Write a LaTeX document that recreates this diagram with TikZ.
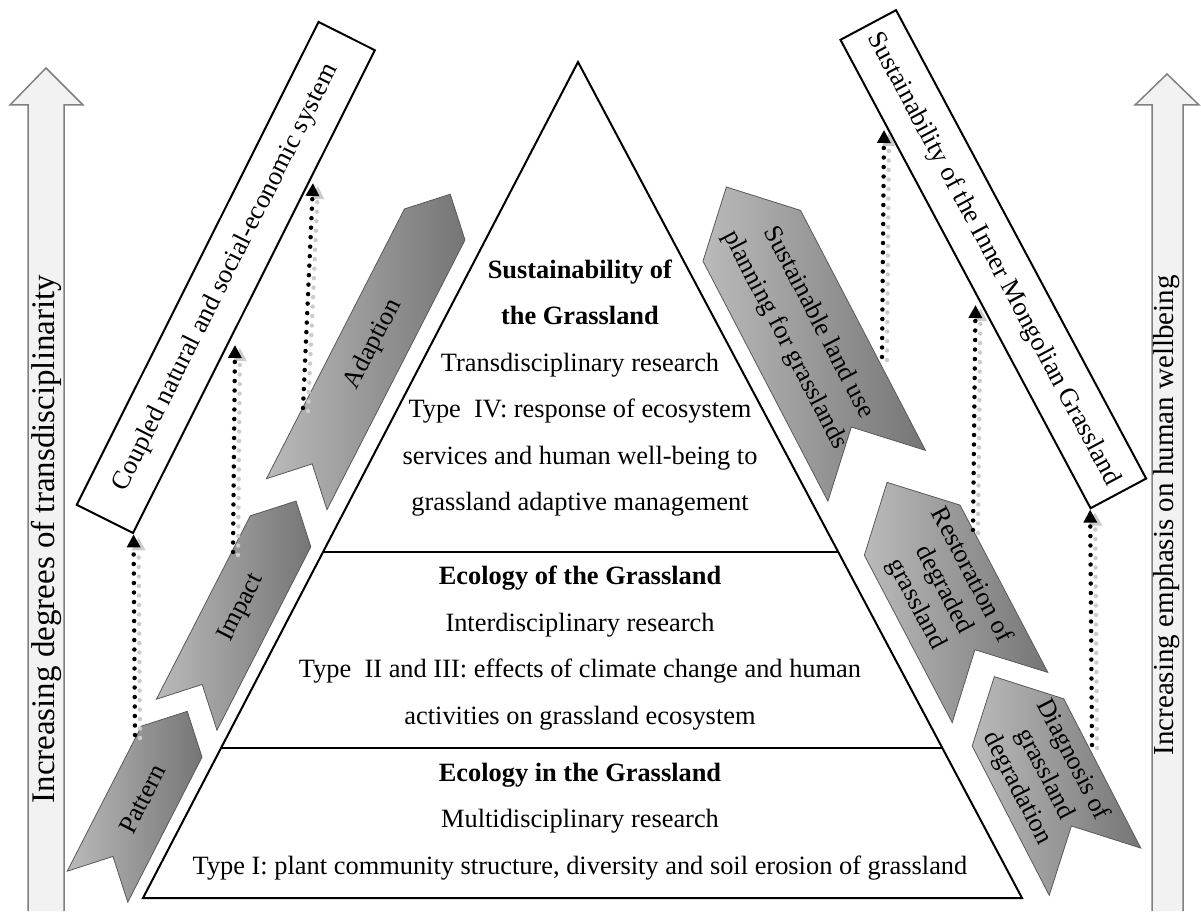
\documentclass[tikz,border=0pt]{standalone}
\usepackage{fontspec}
\setmainfont{Liberation Serif}
\usetikzlibrary{arrows.meta,calc}

% chevron: name, base point, angle, body length, width, text angle, text
\newcommand{\chevron}[7]{%
  \begin{scope}[shift={#2},rotate=#3]
    \path [chevbody] (0,-#5/2) -- (#4,-#5/2) -- (#4+#5/2,0) -- (#4,#5/2) -- (0,#5/2) -- (#5/2,0) -- cycle;
    \node [chevtext,rotate=#6] (#1) at ({(#4+#5/2)/2},0) {#7};
  \end{scope}}

\begin{document}
\begin{tikzpicture}[
                            x=1pt, y=1pt,
                            chevbody/.style={draw=black!65, line width=0.8pt, left color=black!27, right color=black!54},
                            chevtext/.style={align=center, inner sep=0pt, font=\fontsize{26}{31}\selectfont},
                            tritext/.style={align=center, font=\fontsize{26.4}{46.5}\selectfont},
                            sidetext/.style={rotate=90, anchor=west},
                            sidefill/.style={fill=black!5},
                            sideline/.style={draw=black!50, line width=1.5pt},
                            labelbox/.style={rectangle, draw, line width=2pt, minimum height=63pt, font=\fontsize{26.4}{30}\selectfont},
                            dotline/.style={line width=4.5pt, dash pattern=on 0pt off 9.5pt, line cap=round, -{Triangle[length=13pt,width=13pt]}},
                            dotshadow/.style={dotline, black!20, transform canvas={shift={(5pt,-3pt)}}}
                        ]
                        \useasboundingbox (0,0) rectangle (1201,911);

                        % Side arrows
                        \fill [sidefill] (28,0) -- (28,806) -- (10,806) -- (46,843) -- (83,806) -- (64,806) -- (64,0) -- cycle;
                        \draw [sideline] (28,0) -- (28,806) -- (10,806) -- (46,843) -- (83,806) -- (64,806) -- (64,0);
                        \fill [sidefill] (1152,0) -- (1152,806) -- (1135,806) -- (1167,837) -- (1199,806) -- (1183,806) -- (1183,0) -- cycle;
                        \draw [sideline] (1152,0) -- (1152,806) -- (1135,806) -- (1167,837) -- (1199,806) -- (1183,806) -- (1183,0);
                        \node [sidetext, font=\fontsize{33}{36}\selectfont] (transd) at (46,104) {Increasing degrees of transdisciplinarity};
                        \node [sidetext, font=\fontsize{29}{34}\selectfont] (wellbeing) at (1167,152) {Increasing emphasis on human wellbeing};

                        % Triangle
                        \coordinate (apex) at (578,849);
                        \coordinate (bl) at (143,13);
                        \coordinate (br) at (1022,13);
                        \draw [line width=2pt] (apex) -- (bl) -- (br) -- cycle;
                        \draw [line width=2pt] ($(bl)!0.1794!(apex)$) -- ($(br)!0.1794!(apex)$);
                        \draw [line width=2pt] ($(bl)!0.4139!(apex)$) -- ($(br)!0.4139!(apex)$);
                        \node [tritext] (transres) at (580,523) {\textbf{Sustainability of}\\\textbf{the Grassland}\\Transdisciplinary research\\Type\ \ IV: response of ecosystem\\services and human well-being to\\grassland adaptive management};
                        \node [tritext] (interres) at (580,263) {\textbf{Ecology of the Grassland}\\Interdisciplinary research\\Type\ \ II and III: effects of climate change and human\\activities on grassland ecosystem};
                        \node [tritext] (multires) at (580,89.5) {\textbf{Ecology in the Grassland}\\Multidisciplinary research\\Type I: plant community structure, diversity and soil erosion of grassland};

                        % Boxes
                        \node [labelbox, rotate=63.4, minimum width=540pt] (coupled) at (225.8,633.5) {Coupled natural and social-economic system};
                        \node [labelbox, rotate=-61.9, minimum width=531pt] (inner) at (993.3,651.8) {Sustainability of the Inner Mongolian Grassland};

                        % Chevrons
                        \chevron{pattern}{(97.5,24.3)}{62.9}{163}{68}{62.9}{Pattern}
                        \chevron{impact}{(186.7,196.3)}{62.9}{206}{68}{62.9}{Impact}
                        \chevron{adaption}{(296.7,416.8)}{62.9}{303}{68}{62.9}{Adaption}
                        \chevron{landuse}{(876.7,435.2)}{117.5}{270.6}{110}{-62.5}{Sustainable land use\\[7pt]planning for grasslands}
                        \chevron{restore}{(1000,213.5)}{117.7}{189}{108}{-62.3}{Restoration of\\degraded\\grassland}
                        \chevron{diagnose}{(1095,39.3)}{117.3}{168}{103}{-62.7}{Diagnosis of\\grassland\\degradation}

                        % Connections
                        \coordinate (p1) at (135,176);
                        \coordinate (p2) at (233,359);
                        \coordinate (q2) at (235,566);
                        \coordinate (p3) at (303,503);
                        \coordinate (q3) at (313,728);
                        \coordinate (p4) at (882,554);
                        \coordinate (q4) at (884,781);
                        \coordinate (p5) at (973,381);
                        \coordinate (q5) at (975.5,606);
                        \coordinate (p6) at (1092,166);
                        \foreach \a/\b in {p1/coupled.south west, p2/q2, p3/q3, p4/q4, p5/q5, p6/inner.south east}{
                            \draw [dotshadow] (\a) -- (\b);
                            \draw [dotline] (\a) -- (\b);
                        }
                    \end{tikzpicture}
\end{document}
